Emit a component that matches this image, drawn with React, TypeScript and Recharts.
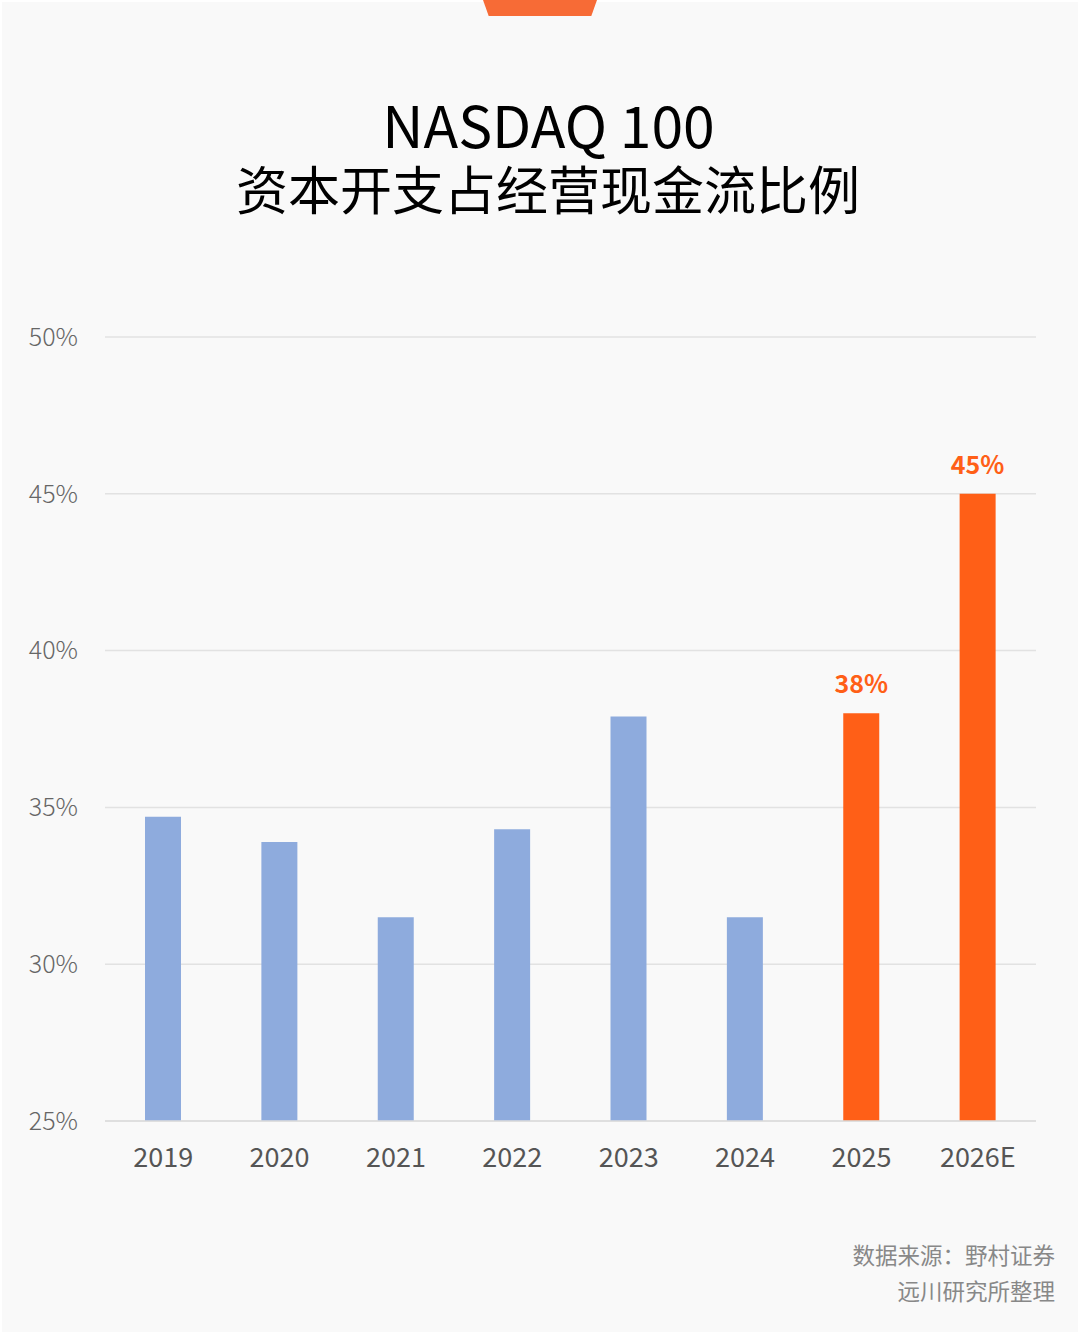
import { Bar, BarChart, CartesianGrid, Cell, LabelList, XAxis, YAxis } from "recharts";

const years = ["2019", "2020", "2021", "2022", "2023", "2024", "2025", "2026E"];
const ratios = [34.7, 33.9, 31.5, 34.3, 37.9, 31.5, 38, 45];
const labelledYears = ["2025", "2026E"];
const yTicks = [25, 30, 35, 40, 45, 50];

const data = years.map((year, i) => ({ year, ratio: ratios[i] }));

const FONT = "'Noto Sans CJK SC', 'Noto Sans', sans-serif";
const BLUE = "#8eabdd";
const ORANGE = "#ff5f17";

function TopLabel(props: any) {
  const { x, y, width, value, index } = props;
  if (!labelledYears.includes(years[index])) return null;
  return (
    <text
      x={x + width / 2}
      y={y - 20}
      textAnchor="middle"
      fill={ORANGE}
      fontSize={25}
      fontWeight={700}
      fontFamily={FONT}
    >
      {`${Math.round(value)}%`}
    </text>
  );
}

export default function App() {
  return (
    <div
      style={{
        position: "absolute",
        left: 0,
        top: 0,
        width: 1080,
        height: 1334,
        background: "#f9f9f9",
        boxShadow: "inset 0 0 0 2px #ffffff",
        fontFamily: FONT,
        overflow: "hidden",
      }}
    >
      <div
        style={{
          position: "absolute",
          left: 483,
          top: 0,
          width: 114,
          height: 16,
          background: "#f76b36",
          clipPath: "polygon(0 0, 100% 0, 95% 100%, 5% 100%)",
        }}
      />
      <div
        style={{
          position: "absolute",
          top: 93,
          left: 0,
          width: 1097,
          textAlign: "center",
          color: "#000",
          fontSize: 57,
          lineHeight: "60px",
        }}
      >
        NASDAQ 100
      </div>
      <div
        style={{
          position: "absolute",
          top: 155,
          left: 0,
          width: 1096,
          textAlign: "center",
          color: "#000",
          fontSize: 52,
          lineHeight: "66px",
        }}
      >
        资本开支占经营现金流比例
      </div>

      <div style={{ position: "absolute", left: 0, top: 0 }}>
        <BarChart
          width={1080}
          height={1334}
          data={data}
          margin={{ top: 337, right: 44, left: 0, bottom: 153 }}
        >
          <CartesianGrid vertical={false} stroke="#e2e2e2" strokeWidth={1.5} />
          <XAxis
            dataKey="year"
            height={60}
            tickLine={false}
            tickSize={0}
            tickMargin={27}
            axisLine={{ stroke: "#dcdcdc", strokeWidth: 1.5 }}
            tick={{ fill: "#555", fontSize: 27, fontFamily: FONT }}
          />
          <YAxis
            width={105}
            domain={[25, 50]}
            ticks={yTicks}
            interval={0}
            tickLine={false}
            tickSize={0}
            tickMargin={27}
            axisLine={false}
            tickFormatter={(v) => `${v}%`}
            tick={{ fill: "#666", fontSize: 25, fontWeight: 300, fontFamily: FONT }}
          />
          <Bar dataKey="ratio" barSize={36} isAnimationActive={false}>
            {data.map((d) => (
              <Cell key={d.year} fill={labelledYears.includes(d.year) ? ORANGE : BLUE} />
            ))}
            <LabelList dataKey="ratio" content={TopLabel} />
          </Bar>
        </BarChart>
      </div>

      <div
        style={{
          position: "absolute",
          right: 25,
          top: 1236,
          textAlign: "right",
          color: "#888",
          fontSize: 22.5,
          lineHeight: "36px",
        }}
      >
        数据来源：野村证券
        <br />
        远川研究所整理
      </div>
    </div>
  );
}
